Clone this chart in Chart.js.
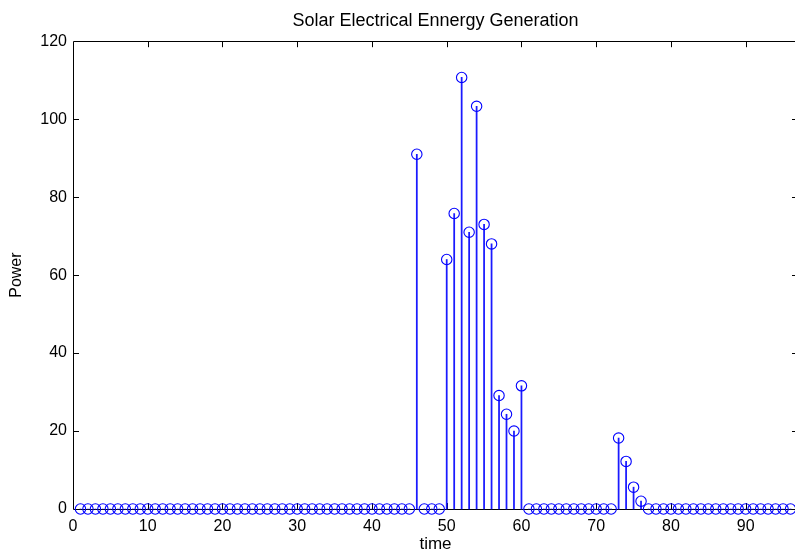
<!DOCTYPE html>
<html>
<head>
<meta charset="utf-8">
<title>Solar Electrical Ennergy Generation</title>
<script src="https://cdn.jsdelivr.net/npm/chart.js@4/dist/chart.umd.min.js"></script>
<style>
    html, body { margin: 0; padding: 0; background: #ffffff; overflow: hidden; }
    #ControlSolarStem { display: block; }
</style>
</head>
<body>
<canvas id="ControlSolarStem" width="820" height="555"></canvas>
<script>
// time steps (15 min slots of one day)
var ListTime = [
    1, 2, 3, 4, 5, 6, 7, 8, 9, 10, 11, 12, 13, 14, 15, 16,
    17, 18, 19, 20, 21, 22, 23, 24, 25, 26, 27, 28, 29, 30, 31, 32,
    33, 34, 35, 36, 37, 38, 39, 40, 41, 42, 43, 44, 45, 46, 47, 48,
    49, 50, 51, 52, 53, 54, 55, 56, 57, 58, 59, 60, 61, 62, 63, 64,
    65, 66, 67, 68, 69, 70, 71, 72, 73, 74, 75, 76, 77, 78, 79, 80,
    81, 82, 83, 84, 85, 86, 87, 88, 89, 90, 91, 92, 93, 94, 95, 96
];

// power read from the stems
var ListPower = [
    0, 0, 0, 0, 0, 0, 0, 0, 0, 0, 0, 0, 0, 0, 0, 0,
    0, 0, 0, 0, 0, 0, 0, 0, 0, 0, 0, 0, 0, 0, 0, 0,
    0, 0, 0, 0, 0, 0, 0, 0, 0, 0, 0, 0, 0, 91, 0, 0,
    0, 64, 75.8, 110.7, 71, 103.3, 73, 68, 29.1, 24.3, 20, 31.6, 0, 0, 0, 0,
    0, 0, 0, 0, 0, 0, 0, 0, 18.2, 12.2, 5.6, 2, 0, 0, 0, 0,
    0, 0, 0, 0, 0, 0, 0, 0, 0, 0, 0, 0, 0, 0, 0, 0
];

var ListTicksX = [10, 20, 30, 40, 50, 60, 70, 80, 90];
var ListTicksY = [20, 40, 60, 80, 100];

var solarChart = {

    fontName: "'Liberation Sans', Arial, Helvetica, sans-serif",

    GetPoints: function () {
        var points = [];
        for (var i = 0; i < ListTime.length; i++) {
            points.push({ x: ListTime[i], y: ListPower[i] });
        }
        return points;
    },

    // box + inward ticks like matlab axes
    boxPlugin: {
        id: 'matlabBox',
        beforeDatasetsDraw: function (chart) {
            var ctx = chart.ctx;
            var area = chart.chartArea;
            var sx = chart.scales.x;
            var sy = chart.scales.y;
            var len = 6;
            ctx.save();
            ctx.strokeStyle = '#000000';
            ctx.lineWidth = 1;
            ctx.beginPath();
            ctx.rect(Math.round(area.left) + 0.5, Math.round(area.top) + 0.5,
                Math.round(area.right - area.left), Math.round(area.bottom - area.top));
            for (var i = 0; i < ListTicksX.length; i++) {
                var px = Math.round(sx.getPixelForValue(ListTicksX[i])) + 0.5;
                ctx.moveTo(px, area.bottom);
                ctx.lineTo(px, area.bottom - len);
                ctx.moveTo(px, area.top);
                ctx.lineTo(px, area.top + len);
            }
            for (var j = 0; j < ListTicksY.length; j++) {
                var py = Math.round(sy.getPixelForValue(ListTicksY[j])) + 0.5;
                ctx.moveTo(area.left, py);
                ctx.lineTo(area.left + len, py);
                ctx.moveTo(area.right, py);
                ctx.lineTo(area.right - len, py);
            }
            ctx.stroke();
            ctx.restore();
        }
    },

    LoadChart: function () {
        var points = solarChart.GetPoints();
        var ctxL = document.getElementById('ControlSolarStem').getContext('2d');

        Chart.defaults.font.family = solarChart.fontName;
        Chart.defaults.color = '#000000';

        var myStemChart = new Chart(ctxL, {
            type: 'bar',
            data: {
                datasets: [{
                    type: 'line',
                    label: 'Power',
                    data: points,
                    showLine: false,
                    pointStyle: 'circle',
                    pointRadius: 5.2,
                    pointHoverRadius: 5.2,
                    pointBorderWidth: 1.1,
                    pointBorderColor: '#0000ff',
                    pointBackgroundColor: 'rgba(0, 0, 0, 0)',
                    clip: false
                },
                {
                    type: 'bar',
                    label: 'Stem',
                    data: points,
                    backgroundColor: '#1a1aff',
                    borderWidth: 0,
                    barThickness: 1.1,
                    clip: false
                }]
            },
            options: {
                responsive: false,
                animation: false,
                events: [],
                layout: {
                    padding: { left: 0, right: 22, top: 0, bottom: 0 }
                },
                plugins: {
                    legend: { display: false },
                    tooltip: { enabled: false },
                    title: {
                        display: true,
                        fullSize: false,
                        text: 'Solar Electrical Ennergy Generation',
                        color: '#000000',
                        font: { size: 18, weight: 'normal', lineHeight: 1.2 },
                        padding: { top: 10, bottom: 9.6 }
                    }
                },
                scales: {
                    x: {
                        type: 'linear',
                        offset: false,
                        min: 0,
                        max: 97,
                        grid: { display: false, drawTicks: false },
                        border: { display: false },
                        ticks: {
                            stepSize: 10,
                            includeBounds: false,
                            maxRotation: 0,
                            padding: 8,
                            font: { size: 16 },
                            color: '#000000'
                        },
                        title: {
                            display: true,
                            text: 'time',
                            font: { size: 17 },
                            color: '#000000',
                            padding: { top: 0, bottom: 0 }
                        },
                        afterFit: function (scale) { scale.height = 46; }
                    },
                    y: {
                        min: 0,
                        max: 120,
                        grid: { display: false, drawTicks: false },
                        border: { display: false },
                        ticks: {
                            stepSize: 20,
                            padding: 6,
                            font: { size: 16 },
                            color: '#000000'
                        },
                        title: {
                            display: true,
                            text: 'Power',
                            font: { size: 16 },
                            color: '#000000',
                            padding: { top: 7, bottom: 0 }
                        },
                        afterFit: function (scale) { scale.width = 73; }
                    }
                }
            },
            plugins: [solarChart.boxPlugin]
        });
    }
};

solarChart.LoadChart();
</script>
</body>
</html>
